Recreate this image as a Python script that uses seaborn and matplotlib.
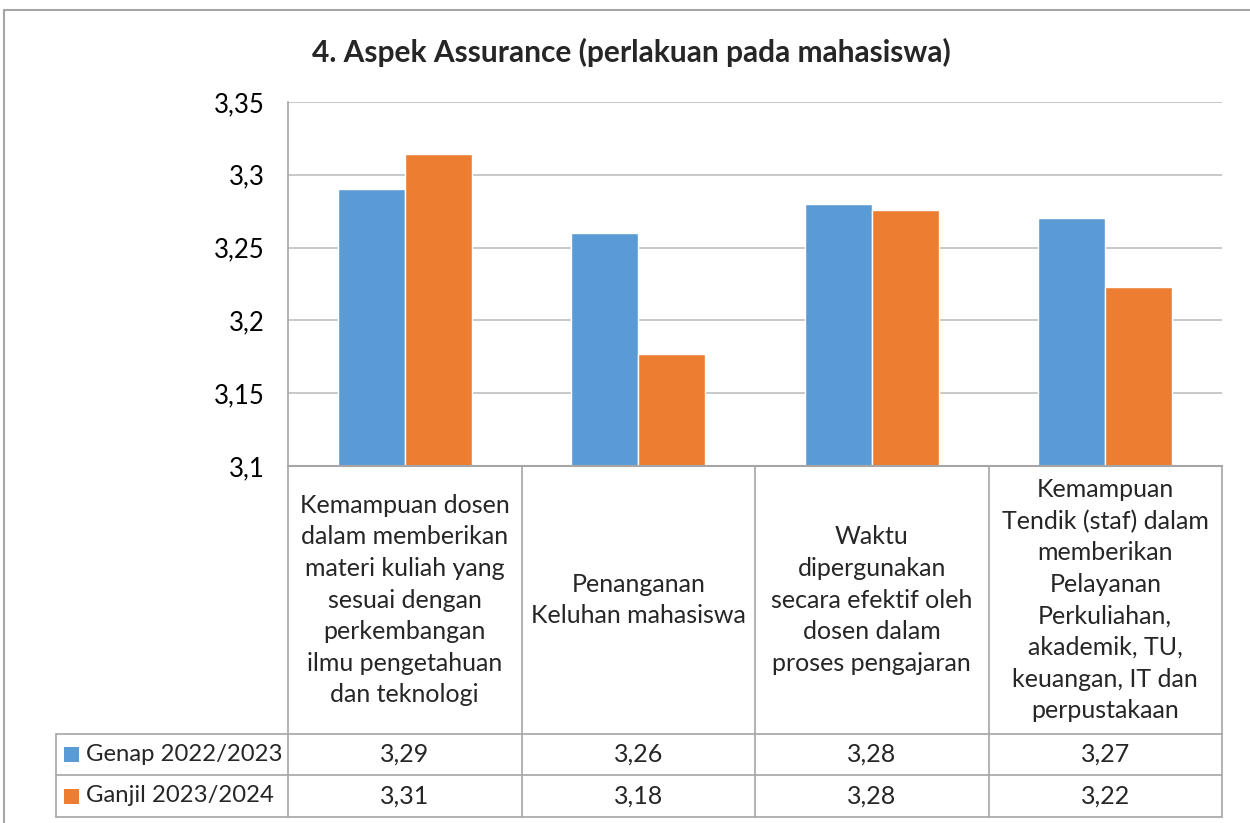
import numpy as np
import pandas as pd
import seaborn as sns
import matplotlib.pyplot as plt
import matplotlib.patches as mpatches

# data
categories = [
    "Kemampuan dosen\ndalam memberikan\nmateri kuliah yang\nsesuai dengan\nperkembangan\nilmu pengetahuan\ndan teknologi",
    "Penanganan\nKeluhan mahasiswa",
    "Waktu\ndipergunakan\nsecara efektif oleh\ndosen dalam\nproses pengajaran",
    "Kemampuan\nTendik (staf) dalam\nmemberikan\nPelayanan\nPerkuliahan,\nakademik, TU,\nkeuangan, IT dan\nperpustakaan",
]
series = ["Genap 2022/2023", "Ganjil 2023/2024"]
genap = [3.29, 3.26, 3.28, 3.27]
ganjil = [3.314, 3.177, 3.276, 3.223]
colors = ["#5B9BD5", "#ED7D31"]
yticks = [3.1, 3.15, 3.2, 3.25, 3.3, 3.35]
title = "4. Aspek Assurance (perlakuan pada mahasiswa)"

df = pd.DataFrame({
    "aspek": categories * 2,
    "semester": [series[0]] * len(genap) + [series[1]] * len(ganjil),
    "nilai": genap + ganjil,
})

sns.set_style("white")
plt.rcParams["font.family"] = ["Lato", "DejaVu Sans"]

W, H = 1250, 823
fig = plt.figure(figsize=(W / 100, H / 100), dpi=100)
# plot area in pixels: x 288..1222, y 102..466
px_l, px_r, px_t, px_b = 288, 1222, 102, 466
ax = fig.add_axes([px_l / W, 1 - px_b / H, (px_r - px_l) / W, (px_b - px_t) / H])

sns.barplot(data=df, x="aspek", y="nilai", hue="semester", palette=colors,
            width=0.574, gap=0, saturation=1, legend=False, ax=ax)

ax.set_ylim(yticks[0], yticks[-1])
ax.set_xlim(-0.5, len(categories) - 0.5)
ax.set_yticks(yticks)
ax.set_yticklabels([f"{v:g}".replace(".", ",") for v in yticks])
ax.set_xticks([])
ax.set_xlabel("")
ax.set_ylabel("")
ax.yaxis.grid(True, color="#BFBFBF", lw=1.2)
ax.set_axisbelow(True)
for s in ["top", "right"]:
    ax.spines[s].set_visible(False)
ax.spines["left"].set_color("#A6A6A6")
ax.spines["left"].set_linewidth(1.2)
ax.spines["bottom"].set_color("#A6A6A6")
ax.spines["bottom"].set_linewidth(1.5)
ax.tick_params(axis="y", direction="out", length=7, color="#A6A6A6", width=1.2,
               labelsize=18.5, pad=10, labelcolor="black")

# data table under the chart
def axx(px):
    return (px - px_l) / (px_r - px_l)

def axy(py):
    return (px_b - py) / (px_b - px_t)

line_kw = dict(transform=ax.transAxes, clip_on=False, color="#A6A6A6", lw=1.2)
n = len(categories)
edges = np.linspace(0, 1, n + 1)
y_head, y_row1, y_row2 = axy(734), axy(775), axy(817)
x_left = axx(56)

for e in edges:
    ax.plot([e, e], [0, y_row2], **line_kw)
for yy in [y_head, y_row1, y_row2]:
    ax.plot([x_left, 1], [yy, yy], **line_kw)
ax.plot([x_left, x_left], [y_head, y_row2], **line_kw)

for i, lab in enumerate(categories):
    xc = (edges[i] + edges[i + 1]) / 2
    ax.text(xc, y_head / 2, lab, transform=ax.transAxes, ha="center", va="center",
            fontsize=18, linespacing=1.45)

rows = [genap, ganjil]
for r, (name, vals, col) in enumerate(zip(series, rows, colors)):
    top = y_head if r == 0 else y_row1
    bot = y_row1 if r == 0 else y_row2
    yc = (top + bot) / 2
    kh = 15 / (px_b - px_t)
    ax.add_patch(mpatches.Rectangle((axx(64), yc - kh / 2), 15 / (px_r - px_l), kh,
                                    transform=ax.transAxes, clip_on=False,
                                    facecolor=col, edgecolor="none"))
    ax.text(axx(86), yc, name, transform=ax.transAxes, ha="left", va="center", fontsize=17.2)
    for i, v in enumerate(vals):
        xc = (edges[i] + edges[i + 1]) / 2
        ax.text(xc, yc, f"{v:.2f}".replace(".", ","), transform=ax.transAxes,
                ha="center", va="center", fontsize=18)

fig.text(0.505, 1 - 52 / H, title, ha="center", va="center", fontsize=21.5, fontweight="bold")

# chart area border (partly cut off in the reference)
fig.add_artist(mpatches.Rectangle((4 / W, -0.1), 1.2, 1.1 - 10 / H, transform=fig.transFigure,
                                  fill=False, edgecolor="#A6A6A6", lw=1.5))

fig.savefig("out.png", dpi=100)
